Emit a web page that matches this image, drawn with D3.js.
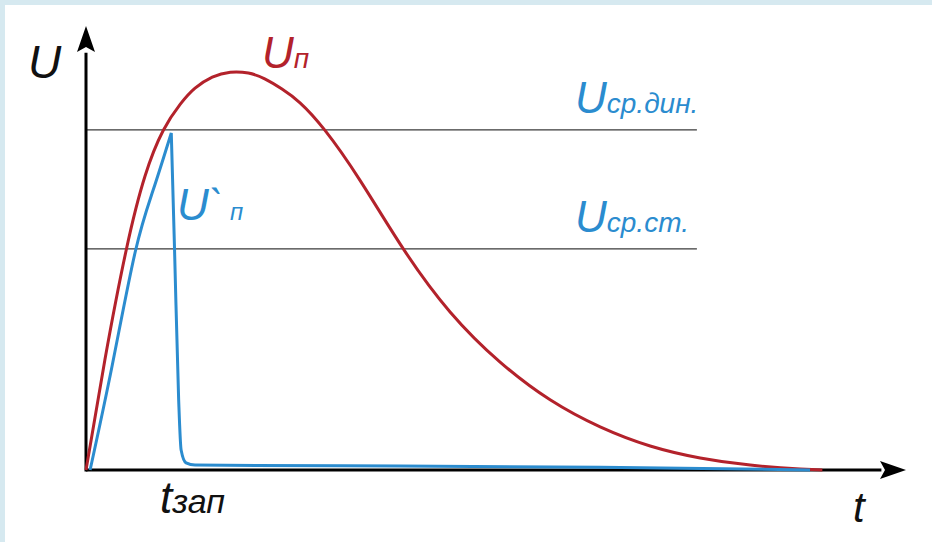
<!DOCTYPE html>
<html>
<head>
<meta charset="utf-8">
<script src="https://cdn.jsdelivr.net/npm/d3@7"></script>
<style>
  body { margin: 0; background: #d6e9f0; }
  svg { display: block; }
  text { font-family: "Liberation Sans", Arial, sans-serif; font-style: italic; }
</style>
</head>
<body>
<div id="wrapper"></div>
<script>
// red curve U_п (t, U)
const redT = [0, 2.3, 4.9, 7.2, 9.4, 11.5, 13.3, 15.4, 17.6, 19.8, 21.8, 23.9, 26.1, 29.1, 33.4, 38.7, 44.4, 50.5, 56.6, 62.7, 68.8, 74.9, 81, 87.1, 89.8]
const redU = [0, 24.8, 49.5, 66.2, 76.4, 82.4, 86.0, 88.5, 89.6, 89.4, 88.1, 85.8, 82.7, 76.6, 65.3, 49.8, 35.6, 24.3, 15.8, 9.7, 5.4, 2.7, 1.1, 0.2, 0]
// blue curve U`_п: rise up to the peak, then the drop
const blueRiseT = [0.5, 3.2, 6.0, 8.2, 10.4]
const blueRiseU = [0, 23.6, 49.1, 63.1, 75.9]
const blueDropT = [10.4, 10.8, 11.3, 11.6, 12.2, 13.3, 38.3, 62.7, 88.3]
const blueDropU = [75.9, 49.5, 15.8, 4.5, 1.6, 1.1, 0.9, 0.6, 0]
// horizontal levels
const levelNames = ['дин.', 'ст.']
const levelU = [76.6, 49.8]
const levelEnd = 74.5

const red = '#b3222b'
const blue = '#2b8ccf'

let dimensions = {
    width: 932,
    height: 542,
    origin: { x: 86, y: 470 }
}

const svg = d3.select('#wrapper').append('svg')
    .attr('width', dimensions.width)
    .attr('height', dimensions.height)

// white panel
svg.append('rect')
    .attr('x', 5).attr('y', 5)
    .attr('width', dimensions.width - 5).attr('height', dimensions.height - 5)
    .attr('fill', '#ffffff')

const xScale = d3.scaleLinear().domain([0, 100]).range([dimensions.origin.x, dimensions.origin.x + 820])
const yScale = d3.scaleLinear().domain([0, 100]).range([dimensions.origin.y, dimensions.origin.y - 444])

// level lines
svg.selectAll('.level')
    .data(levelU)
    .enter()
    .append('line')
    .attr('x1', xScale(0)).attr('x2', xScale(levelEnd))
    .attr('y1', d => yScale(d)).attr('y2', d => yScale(d))
    .attr('stroke', '#3a3a3a')
    .attr('stroke-width', 1.3)

// axes
svg.append('line')
    .attr('x1', xScale(0)).attr('y1', yScale(0))
    .attr('x2', xScale(97)).attr('y2', yScale(0))
    .attr('stroke', '#000').attr('stroke-width', 3)
svg.append('line')
    .attr('x1', xScale(0)).attr('y1', yScale(0) + 1.5)
    .attr('x2', xScale(0)).attr('y2', yScale(94))
    .attr('stroke', '#000').attr('stroke-width', 3)
svg.append('path')
    .attr('d', `M${xScale(100)},${yScale(0)} L${xScale(100) - 26},${yScale(0) - 9} L${xScale(100) - 21},${yScale(0)} L${xScale(100) - 26},${yScale(0) + 9} Z`)
    .attr('fill', '#000')
svg.append('path')
    .attr('d', `M${xScale(0)},${yScale(100)} L${xScale(0) - 9},${yScale(100) + 26} L${xScale(0)},${yScale(100) + 21} L${xScale(0) + 9},${yScale(100) + 26} Z`)
    .attr('fill', '#000')

// curves
const redLine = d3.line()
    .x((d, i) => xScale(redT[i]))
    .y(d => yScale(d))
    .curve(d3.curveNatural)
svg.append('path')
    .attr('d', redLine(redU))
    .attr('fill', 'none')
    .attr('stroke', red)
    .attr('stroke-width', 3)

const riseLine = d3.line()
    .x((d, i) => xScale(blueRiseT[i]))
    .y(d => yScale(d))
    .curve(d3.curveNatural)
const dropLine = d3.line()
    .x((d, i) => xScale(blueDropT[i]))
    .y(d => yScale(d))
    .curve(d3.curveMonotoneX)
svg.append('path')
    .attr('d', riseLine(blueRiseU) + dropLine(blueDropU).replace(/^M/, 'L'))
    .attr('fill', 'none')
    .attr('stroke', blue)
    .attr('stroke-width', 3)
    .attr('stroke-linejoin', 'miter')

// labels
function label(x, y, big, small, color, bigSize, smallSize) {
    const t = svg.append('text')
        .attr('x', x).attr('y', y)
        .attr('fill', color)
    t.append('tspan').attr('font-size', bigSize).text(big)
    t.append('tspan').attr('font-size', smallSize).text(small)
    return t
}

label(28, 78, 'U', '', '#111', 46, 0)
label(262, 68, 'U', 'п', red, 44, 28)
label(575, 113, 'U', 'ср.' + levelNames[0], blue, 44, 28)
label(575, 232, 'U', 'ср.' + levelNames[1], blue, 44, 28)
label(177, 220, 'U`', ' п', blue, 44, 24)
label(160, 513, 't', 'зап', '#111', 44, 34)
label(853, 522, 't', '', '#111', 42, 0)
</script>
</body>
</html>
